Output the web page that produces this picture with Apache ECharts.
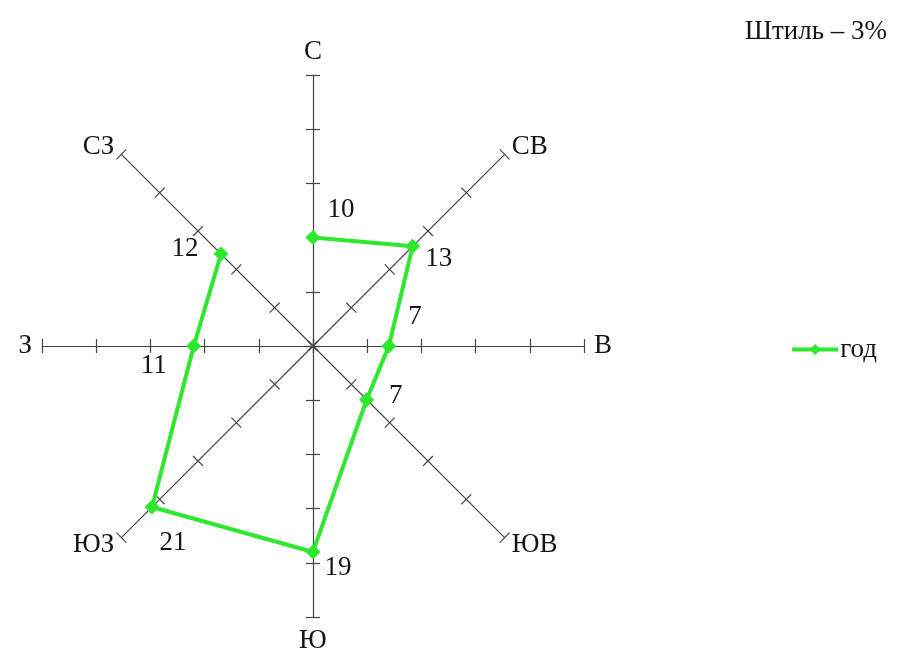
<!DOCTYPE html>
<html>
<head>
<meta charset="utf-8">
<script src="https://cdn.jsdelivr.net/npm/echarts@6/dist/echarts.min.js"></script>
<style>
  html, body { margin: 0; padding: 0; background: #fff; }
  #main { width: 914px; height: 659px; }
</style>
</head>
<body>
<div id="main"></div>
<script>
// румбы по часовой стрелке, начиная с севера
const directions = ["С", "СВ", "В", "ЮВ", "Ю", "ЮЗ", "З", "СЗ"];
const yearValues = [10, 13, 7, 7, 19, 21, 11, 12];
const seriesName = "год";
const calmText = "Штиль – 3%";
const axisMax = 25;

// сдвиги подписей значений относительно точки (px)
const labelOffsets = [[28, -28], [26, 13], [26, -29], [29, -4], [25, 16], [21, 36], [-40, 20], [-36, -5]];

const CENTER = [313, 346];
const RADIUS = 271;
const serif = "Liberation Serif";
const green = "#2ee82e";
const ink = "#151515";

// радар рисует оси против часовой стрелки: С, СЗ, З, ...
const radarOrder = [0, 7, 6, 5, 4, 3, 2, 1].map(i => directions[i]);
const indicators = radarOrder.map(name => ({ name: name, max: axisMax, min: 0 }));

const lineData = directions.map((d, i) => ({
  value: [yearValues[i], d],
  label: { offset: labelOffsets[i] }
}));
// замыкаем многоугольник
lineData.push({ value: [yearValues[0], directions[0]], symbol: "none", label: { show: false } });

const chart = echarts.init(document.getElementById("main"));

const radarBase = {
  center: CENTER,
  radius: RADIUS,
  shape: "polygon",
  splitNumber: 5,
  startAngle: 90,
  indicator: indicators,
  splitLine: { show: false },
  splitArea: { show: false }
};

chart.setOption({
  animation: false,
  backgroundColor: "#fff",
  title: {
    text: calmText,
    right: 22,
    top: 13,
    textStyle: { fontFamily: serif, fontSize: 27, fontWeight: "normal", color: ink }
  },
  legend: {
    right: 32,
    top: 331,
    itemWidth: 46,
    itemHeight: 14,
    itemGap: 4,
    data: [seriesName],
    lineStyle: { width: 4 },
    textStyle: { fontFamily: serif, fontSize: 27, color: ink, padding: [0, 0, 0, -3] }
  },
  radar: [
    Object.assign({}, radarBase, {
      axisName: { color: ink, fontFamily: serif, fontSize: 27 },
      nameGap: 10,
      axisLine: { show: true, lineStyle: { color: "#444", width: 1.2 } },
      axisTick: { show: true, length: 7, lineStyle: { color: "#444", width: 1.2 } },
      axisLabel: { show: false }
    }),
    Object.assign({}, radarBase, {
      axisName: { show: false },
      axisLine: { show: false },
      axisTick: { show: true, length: -7, lineStyle: { color: "#444", width: 1.2 } },
      axisLabel: { show: false }
    })
  ],
  polar: { center: CENTER, radius: RADIUS },
  angleAxis: {
    type: "category",
    data: directions,
    startAngle: 90,
    clockwise: true,
    boundaryGap: false,
    show: false
  },
  radiusAxis: { min: 0, max: axisMax, show: false },
  series: [{
    name: seriesName,
    type: "line",
    coordinateSystem: "polar",
    data: lineData,
    symbol: "diamond",
    symbolSize: 15,
    lineStyle: { color: green, width: 4 },
    itemStyle: { color: green },
    label: {
      show: true,
      position: "inside",
      formatter: p => p.value[0],
      fontFamily: serif,
      fontSize: 27,
      color: ink
    }
  }]
});
</script>
</body>
</html>
